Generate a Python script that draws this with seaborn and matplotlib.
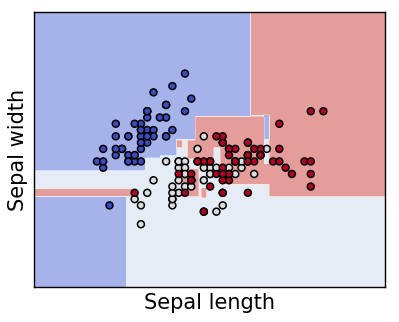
import numpy as np
import pandas as pd
import matplotlib
matplotlib.use("Agg")
import matplotlib.pyplot as plt
from matplotlib.colors import ListedColormap
import seaborn as sns

# Iris data: sepal length / sepal width / species (0 setosa, 1 versicolor, 2 virginica)
sepal_length = [
    5.1, 4.9, 4.7, 4.6, 5.0, 5.4, 4.6, 5.0, 4.4, 4.9, 5.4, 4.8, 4.8, 4.3, 5.8, 5.7, 5.4, 5.1, 5.7, 5.1,
    5.4, 5.1, 4.6, 5.1, 4.8, 5.0, 5.0, 5.2, 5.2, 4.7, 4.8, 5.4, 5.2, 5.5, 4.9, 5.0, 5.5, 4.9, 4.4, 5.1,
    5.0, 4.5, 4.4, 5.0, 5.1, 4.8, 5.1, 4.6, 5.3, 5.0,
    7.0, 6.4, 6.9, 5.5, 6.5, 5.7, 6.3, 4.9, 6.6, 5.2, 5.0, 5.9, 6.0, 6.1, 5.6, 6.7, 5.6, 5.8, 6.2, 5.6,
    5.9, 6.1, 6.3, 6.1, 6.4, 6.6, 6.8, 6.7, 6.0, 5.7, 5.5, 5.5, 5.8, 6.0, 5.4, 6.0, 6.7, 6.3, 5.6, 5.5,
    5.5, 6.1, 5.8, 5.0, 5.6, 5.7, 5.7, 6.2, 5.1, 5.7,
    6.3, 5.8, 7.1, 6.3, 6.5, 7.6, 4.9, 7.3, 6.7, 7.2, 6.5, 6.4, 6.8, 5.7, 5.8, 6.4, 6.5, 7.7, 7.7, 6.0,
    6.9, 5.6, 7.7, 6.3, 6.7, 7.2, 6.2, 6.1, 6.4, 7.2, 7.4, 7.9, 6.4, 6.3, 6.1, 7.7, 6.3, 6.4, 6.0, 6.9,
    6.7, 6.9, 5.8, 6.8, 6.7, 6.7, 6.3, 6.5, 6.2, 5.9,
]
sepal_width = [
    3.5, 3.0, 3.2, 3.1, 3.6, 3.9, 3.4, 3.4, 2.9, 3.1, 3.7, 3.4, 3.0, 3.0, 4.0, 4.4, 3.9, 3.5, 3.8, 3.8,
    3.4, 3.7, 3.6, 3.3, 3.4, 3.0, 3.4, 3.5, 3.4, 3.2, 3.1, 3.4, 4.1, 4.2, 3.1, 3.2, 3.5, 3.6, 3.0, 3.4,
    3.5, 2.3, 3.2, 3.5, 3.8, 3.0, 3.8, 3.2, 3.7, 3.3,
    3.2, 3.2, 3.1, 2.3, 2.8, 2.8, 3.3, 2.4, 2.9, 2.7, 2.0, 3.0, 2.2, 2.9, 2.9, 3.1, 3.0, 2.7, 2.2, 2.5,
    3.2, 2.8, 2.5, 2.8, 2.9, 3.0, 2.8, 3.0, 2.9, 2.6, 2.4, 2.4, 2.7, 2.7, 3.0, 3.4, 3.1, 2.3, 3.0, 2.5,
    2.6, 3.0, 2.6, 2.3, 2.7, 3.0, 2.9, 2.9, 2.5, 2.8,
    3.3, 2.7, 3.0, 2.9, 3.0, 3.0, 2.5, 2.9, 2.5, 3.6, 3.2, 2.7, 3.0, 2.5, 2.8, 3.2, 3.0, 3.8, 2.6, 2.2,
    3.2, 2.8, 2.8, 2.7, 3.3, 3.2, 2.8, 3.0, 2.8, 3.0, 2.8, 3.8, 2.8, 2.8, 2.6, 3.0, 3.4, 3.1, 3.0, 3.1,
    3.1, 3.1, 2.7, 3.2, 3.3, 3.0, 2.5, 3.0, 3.4, 3.0,
]
species = [0] * 50 + [1] * 50 + [2] * 50

# Decision regions: (x0, x1, y0, y1, class), painted in order over class 1
region_x0 = [3.3, 3.3, 5.07, 5.31, 5.58, 5.87, 6.76, 7.06, 5.87, 5.76, 5.58, 6.27, 5.68, 5.98, 3.3, 6.95, 6.16]
region_x1 = [4.77, 5.07, 5.31, 5.58, 5.87, 6.76, 8.9, 8.9, 6.95, 5.87, 5.66, 7.06, 5.92, 6.03, 4.91, 7.06, 6.27]
region_y0 = [1.0, 2.85, 3.05, 3.10, 3.35, 3.72, 3.75, 2.45, 2.95, 3.06, 3.24, 2.65, 2.45, 2.44, 2.45, 3.35, 2.95]
region_y1 = [2.45, 5.4, 5.4, 5.4, 5.4, 5.4, 5.4, 3.75, 3.72, 3.34, 3.34, 2.95, 2.87, 2.57, 2.55, 3.75, 3.24]
region_cls = [0, 0, 0, 0, 0, 0, 2, 2, 2, 2, 2, 2, 2, 2, 2, 0, 1]

df = pd.DataFrame({"Sepal length": sepal_length, "Sepal width": sepal_width, "species": species})

sns.set_style("white")
plt.rcParams["font.family"] = ["DejaVu Sans"]

x_min, x_max = min(sepal_length) - 1, max(sepal_length) + 1
y_min, y_max = min(sepal_width) - 1, max(sepal_width) + 1
h = 0.02
xx, yy = np.meshgrid(np.arange(x_min, x_max, h), np.arange(y_min, y_max, h))
Z = np.ones_like(xx)
for x0, x1, y0, y1, c in zip(region_x0, region_x1, region_y0, region_y1, region_cls):
    mask = (xx >= x0) & (xx < x1) & (yy >= y0) & (yy < y1)
    Z[mask] = c

cmap = plt.cm.coolwarm
# coolwarm blended with white at alpha 0.5, drawn opaque
base = cmap(np.linspace(0, 1, 256))
blend = base.copy()
blend[:, :3] = 0.5 * base[:, :3] + 0.5
blend[:, 3] = 1.0
cmap_bg = ListedColormap(blend)

fig = plt.figure(figsize=(3.99, 3.22), dpi=100)
ax = fig.add_axes([34 / 399, 1 - 287 / 322, 351 / 399, 275 / 322])
ax.contourf(xx, yy, Z, cmap=cmap_bg)

palette = {0: cmap(0.0), 1: cmap(0.5), 2: cmap(1.0)}
sns.scatterplot(data=df, x="Sepal length", y="Sepal width", hue="species", palette=palette,
                s=25, edgecolor="k", linewidth=1.1, legend=False, ax=ax, zorder=3)

ax.set_xlim(xx.min(), xx.max())
ax.set_ylim(yy.min(), yy.max())
ax.set_xticks([])
ax.set_yticks([])
ax.set_xlabel("Sepal length", fontsize=15, color="black")
ax.set_ylabel("Sepal width", fontsize=15, color="black")
for s in ax.spines.values():
    s.set_visible(True)
    s.set_color("black")
    s.set_linewidth(1.0)

fig.savefig("out.png", dpi=100)
